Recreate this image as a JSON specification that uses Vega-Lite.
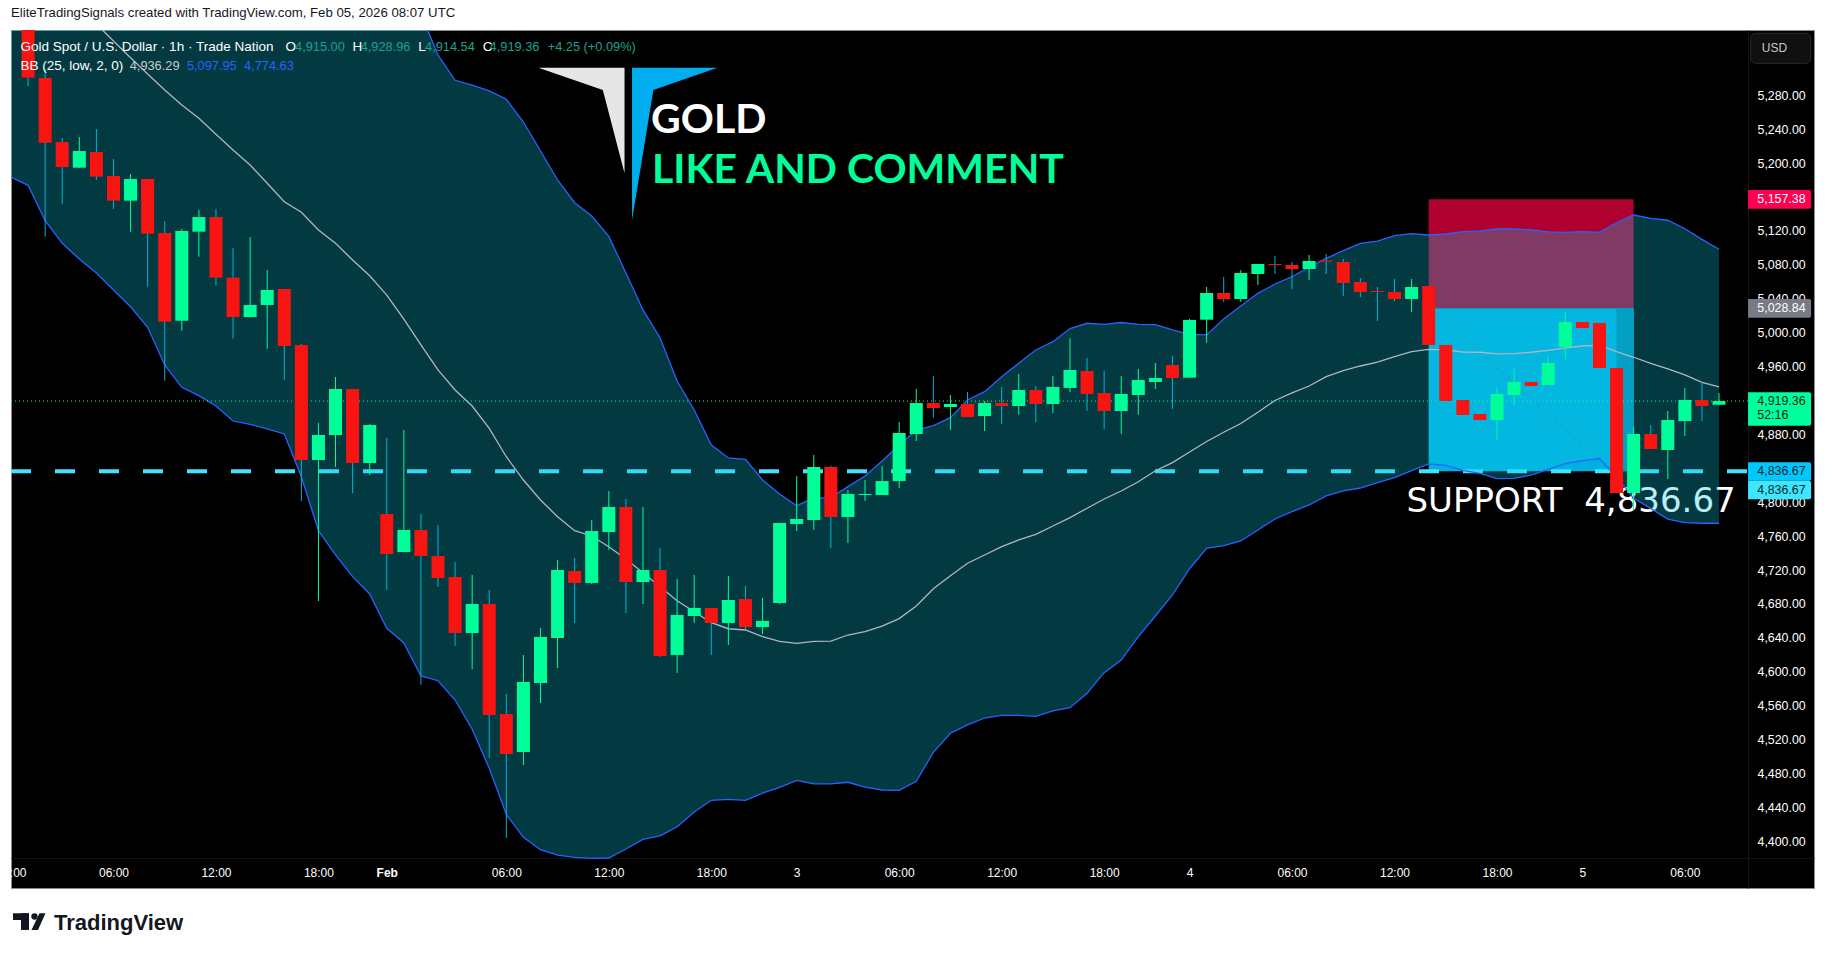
{
  "$schema": "https://vega.github.io/schema/vega-lite/v6.json",
  "autosize": {"type": "none"},
  "padding": {"left": 11, "top": 30, "right": 12, "bottom": 67},
  "width": 1803,
  "height": 858,
  "background": "#ffffff",
  "view": {"fill": "#000000", "stroke": "#8a8a8a"},
  "config": {"font": "Liberation Sans"},
  "title": {
    "text": "EliteTradingSignals created with TradingView.com, Feb 05, 2026 08:07 UTC",
    "anchor": "start",
    "frame": "group",
    "offset": 9,
    "font": "Liberation Sans",
    "fontSize": 13.2,
    "fontWeight": "normal",
    "color": "#131722"
  },
  "datasets": {
    "bars": [
      {"i":0,"open":5357,"high":5357,"low":5290.9,"close":5300.8},
      {"i":1,"open":5300.4,"high":5310.6,"low":5113.2,"close":5224.1},
      {"i":2,"open":5224.9,"high":5229.6,"low":5152.1,"close":5195.4},
      {"i":3,"open":5194.6,"high":5230.8,"low":5194,"close":5214.3},
      {"i":4,"open":5213.1,"high":5240.2,"low":5180.1,"close":5184},
      {"i":5,"open":5184.8,"high":5204.9,"low":5145.9,"close":5155.7},
      {"i":6,"open":5155.7,"high":5187.2,"low":5119.1,"close":5181.3},
      {"i":7,"open":5181.3,"high":5181.3,"low":5054.2,"close":5116.7},
      {"i":8,"open":5117.6,"high":5131.7,"low":4943.4,"close":5013},
      {"i":9,"open":5014.1,"high":5122.3,"low":5002.3,"close":5119.9},
      {"i":10,"open":5119.1,"high":5144.7,"low":5089.6,"close":5136.4},
      {"i":11,"open":5136.4,"high":5145.9,"low":5055.4,"close":5064.9},
      {"i":12,"open":5064.9,"high":5099.9,"low":4992.9,"close":5018.5},
      {"i":13,"open":5018.5,"high":5112.9,"low":5018,"close":5032.7},
      {"i":14,"open":5032.7,"high":5073.9,"low":4981.1,"close":5050.4},
      {"i":15,"open":5051.5,"high":5051.5,"low":4944.2,"close":4984.3},
      {"i":16,"open":4985.5,"high":4986.6,"low":4801.5,"close":4849.8},
      {"i":17,"open":4849.8,"high":4893.5,"low":4683.5,"close":4879.3},
      {"i":18,"open":4879.3,"high":4947.7,"low":4841.6,"close":4933.6},
      {"i":19,"open":4933.6,"high":4933.6,"low":4810.9,"close":4846.3},
      {"i":20,"open":4846.3,"high":4892.3,"low":4832.1,"close":4891.1},
      {"i":21,"open":4786.1,"high":4875.8,"low":4696.5,"close":4739},
      {"i":22,"open":4741.3,"high":4885.2,"low":4741,"close":4767.3},
      {"i":23,"open":4767.3,"high":4786.1,"low":4584.8,"close":4736.6},
      {"i":24,"open":4736.6,"high":4773.2,"low":4700,"close":4710.6},
      {"i":25,"open":4711.8,"high":4729.5,"low":4630.4,"close":4645.8},
      {"i":26,"open":4645.8,"high":4714.2,"low":4603.3,"close":4680},
      {"i":27,"open":4680,"high":4696.5,"low":4498.3,"close":4549},
      {"i":28,"open":4550.2,"high":4573.8,"low":4404,"close":4503},
      {"i":29,"open":4505.4,"high":4619.8,"low":4490.1,"close":4588},
      {"i":30,"open":4586.8,"high":4651.7,"low":4563.2,"close":4641.1},
      {"i":31,"open":4639.9,"high":4731.9,"low":4604.5,"close":4720.1},
      {"i":32,"open":4718.9,"high":4734.3,"low":4657.6,"close":4704.8},
      {"i":33,"open":4704.8,"high":4779.1,"low":4703.6,"close":4766.1},
      {"i":34,"open":4764.9,"high":4813.3,"low":4743.7,"close":4794.4},
      {"i":35,"open":4794.4,"high":4803.8,"low":4669.4,"close":4705.9},
      {"i":36,"open":4705.9,"high":4794.4,"low":4680,"close":4720.1},
      {"i":37,"open":4720.1,"high":4746,"low":4617.5,"close":4618.7},
      {"i":38,"open":4619.9,"high":4709.5,"low":4598.6,"close":4667},
      {"i":39,"open":4665.8,"high":4714.2,"low":4657.6,"close":4675.3},
      {"i":40,"open":4675.3,"high":4675.3,"low":4619.9,"close":4657.6},
      {"i":41,"open":4657.6,"high":4713,"low":4631.6,"close":4684.7},
      {"i":42,"open":4685.9,"high":4701.2,"low":4649.3,"close":4652.8},
      {"i":43,"open":4652.8,"high":4687.1,"low":4644.6,"close":4660},
      {"i":44,"open":4681.2,"high":4775.5,"low":4680,"close":4775.5},
      {"i":45,"open":4774.3,"high":4831,"low":4766.1,"close":4780.2},
      {"i":46,"open":4779,"high":4855.7,"low":4767.3,"close":4841.6},
      {"i":47,"open":4841.6,"high":4842.8,"low":4746,"close":4782.6},
      {"i":48,"open":4782.6,"high":4814.4,"low":4752,"close":4809.7},
      {"i":49,"open":4808.5,"high":4826.2,"low":4801.5,"close":4809.7},
      {"i":50,"open":4808.5,"high":4842.8,"low":4808.5,"close":4825},
      {"i":51,"open":4825,"high":4894.6,"low":4816.8,"close":4881.7},
      {"i":52,"open":4880.5,"high":4933.6,"low":4872.2,"close":4917},
      {"i":53,"open":4917,"high":4948.9,"low":4899.4,"close":4911.1},
      {"i":54,"open":4912.3,"high":4926.5,"low":4885.2,"close":4915.9},
      {"i":55,"open":4915.9,"high":4930,"low":4900.5,"close":4900.5},
      {"i":56,"open":4901.7,"high":4919.4,"low":4884,"close":4917},
      {"i":57,"open":4917,"high":4936,"low":4892.3,"close":4913.5},
      {"i":58,"open":4913.5,"high":4951.3,"low":4903,"close":4932.4},
      {"i":59,"open":4932.4,"high":4937.1,"low":4894.6,"close":4915.9},
      {"i":60,"open":4915.9,"high":4948.9,"low":4905.3,"close":4936},
      {"i":61,"open":4934.8,"high":4993.4,"low":4930,"close":4956},
      {"i":62,"open":4954.8,"high":4970.1,"low":4907.6,"close":4927.7},
      {"i":63,"open":4928.9,"high":4954.8,"low":4886.4,"close":4907.6},
      {"i":64,"open":4907.6,"high":4948.9,"low":4880.5,"close":4927.7},
      {"i":65,"open":4926.5,"high":4957.2,"low":4903,"close":4944.2},
      {"i":66,"open":4941.8,"high":4964.2,"low":4933.6,"close":4946.5},
      {"i":67,"open":4961.9,"high":4972.5,"low":4910,"close":4946.5},
      {"i":68,"open":4946.9,"high":5016.2,"low":4946.9,"close":5015},
      {"i":69,"open":5015.3,"high":5053.9,"low":4988,"close":5046.8},
      {"i":70,"open":5046.8,"high":5065.7,"low":5036.2,"close":5039.7},
      {"i":71,"open":5039.7,"high":5073.9,"low":5036.2,"close":5070.4},
      {"i":72,"open":5069.2,"high":5081,"low":5056.2,"close":5081},
      {"i":73,"open":5081,"high":5090.5,"low":5069.2,"close":5079.8},
      {"i":74,"open":5079.8,"high":5083.4,"low":5051.5,"close":5075.1},
      {"i":75,"open":5075.1,"high":5091.6,"low":5062.1,"close":5084.6},
      {"i":76,"open":5085,"high":5092.8,"low":5069.2,"close":5083.6},
      {"i":77,"open":5083.4,"high":5086.9,"low":5043.3,"close":5058.6},
      {"i":78,"open":5059.8,"high":5064.5,"low":5042.1,"close":5048},
      {"i":79,"open":5049.2,"high":5053.9,"low":5013.8,"close":5048},
      {"i":80,"open":5048,"high":5063.3,"low":5037.4,"close":5039.7},
      {"i":81,"open":5039.7,"high":5063.3,"low":5024.4,"close":5053.9},
      {"i":82,"open":5055.1,"high":5055.1,"low":4985.5,"close":4985.5},
      {"i":83,"open":4985.5,"high":4985.5,"low":4919.4,"close":4919.4},
      {"i":84,"open":4920.6,"high":4920.6,"low":4902.9,"close":4902.9},
      {"i":85,"open":4904.1,"high":4904.1,"low":4897,"close":4897},
      {"i":86,"open":4897,"high":4934.8,"low":4873.4,"close":4927.7},
      {"i":87,"open":4926.5,"high":4958.4,"low":4914.7,"close":4941.8},
      {"i":88,"open":4941.8,"high":4941.8,"low":4937.1,"close":4937.1},
      {"i":89,"open":4938.3,"high":4971.3,"low":4938.3,"close":4964.2},
      {"i":90,"open":4983.1,"high":5024.4,"low":4969,"close":5012.6},
      {"i":91,"open":5012.6,"high":5012.6,"low":5005.5,"close":5005.5},
      {"i":92,"open":5011.4,"high":5011.4,"low":4958.4,"close":4958.4},
      {"i":93,"open":4958.4,"high":4958.4,"low":4810.9,"close":4810.9},
      {"i":94,"open":4810.9,"high":4888.7,"low":4790.9,"close":4880.5},
      {"i":95,"open":4880.5,"high":4891.1,"low":4862.8,"close":4862.8},
      {"i":96,"open":4861.6,"high":4907.6,"low":4827.4,"close":4897},
      {"i":97,"open":4895.8,"high":4934.8,"low":4878.1,"close":4920.6},
      {"i":98,"open":4920.6,"high":4941.8,"low":4895.8,"close":4913.5},
      {"i":99,"open":4915,"high":4928.96,"low":4914.54,"close":4919.36}
    ],
    "bb": [
      {"i":-1,"upper":5710,"mid":5470,"lower":5183.6},
      {"i":0,"upper":5700,"mid":5450,"lower":5173.8},
      {"i":1,"upper":5690,"mid":5430,"lower":5132.1},
      {"i":2,"upper":5680,"mid":5410,"lower":5105.4},
      {"i":3,"upper":5670,"mid":5386.5,"lower":5086.9},
      {"i":4,"upper":5660,"mid":5364,"lower":5070.4},
      {"i":5,"upper":5650,"mid":5344,"lower":5050.3},
      {"i":6,"upper":5645,"mid":5324.3,"lower":5030.6},
      {"i":7,"upper":5640,"mid":5305.1,"lower":5006.3},
      {"i":8,"upper":5635,"mid":5286.2,"lower":4961.9},
      {"i":9,"upper":5630,"mid":5268.6,"lower":4935.6},
      {"i":10,"upper":5625,"mid":5252.9,"lower":4925.7},
      {"i":11,"upper":5620,"mid":5234,"lower":4913.5},
      {"i":12,"upper":5615,"mid":5215.5,"lower":4895.8},
      {"i":13,"upper":5610,"mid":5197.8,"lower":4891.9},
      {"i":14,"upper":5605,"mid":5176.2,"lower":4886.4},
      {"i":15,"upper":5600,"mid":5154.5,"lower":4880.5},
      {"i":16,"upper":5580,"mid":5142,"lower":4830.1},
      {"i":17,"upper":5560,"mid":5121.1,"lower":4766.4},
      {"i":18,"upper":5540,"mid":5105.4,"lower":4737.8},
      {"i":19,"upper":5510,"mid":5085.7,"lower":4712.2},
      {"i":20,"upper":5480,"mid":5067.2,"lower":4691.8},
      {"i":21,"upper":5450,"mid":5044.4,"lower":4651.3},
      {"i":22,"upper":5416,"mid":5016.1,"lower":4634},
      {"i":23,"upper":5375.9,"mid":4985.5,"lower":4595.1},
      {"i":24,"upper":5327.5,"mid":4956,"lower":4589.5},
      {"i":25,"upper":5297.7,"mid":4932.4,"lower":4566.7},
      {"i":26,"upper":5292.1,"mid":4913.5,"lower":4532.2},
      {"i":27,"upper":5285.1,"mid":4887.2,"lower":4486.2},
      {"i":28,"upper":5275.3,"mid":4853.7,"lower":4431.7},
      {"i":29,"upper":5248.5,"mid":4826.2,"lower":4404.8},
      {"i":30,"upper":5214.3,"mid":4802.7,"lower":4390.2},
      {"i":31,"upper":5180.1,"mid":4783,"lower":4383.9},
      {"i":32,"upper":5153.3,"mid":4766.4,"lower":4381.1},
      {"i":33,"upper":5137.6,"mid":4760.2,"lower":4380},
      {"i":34,"upper":5113.6,"mid":4747.6,"lower":4380.4},
      {"i":35,"upper":5070.4,"mid":4733,"lower":4391},
      {"i":36,"upper":5026.8,"mid":4716.9,"lower":4402.4},
      {"i":37,"upper":4994.1,"mid":4700.4,"lower":4406.4},
      {"i":38,"upper":4943,"mid":4683.9,"lower":4417.3},
      {"i":39,"upper":4908.8,"mid":4670.9,"lower":4434.6},
      {"i":40,"upper":4867.5,"mid":4657.9,"lower":4448.4},
      {"i":41,"upper":4852.2,"mid":4650.8,"lower":4449.6},
      {"i":42,"upper":4850.6,"mid":4649.3,"lower":4448.4},
      {"i":43,"upper":4826.2,"mid":4641.4,"lower":4457},
      {"i":44,"upper":4809.7,"mid":4636,"lower":4463.8},
      {"i":45,"upper":4795.9,"mid":4633.6,"lower":4472},
      {"i":46,"upper":4805,"mid":4636,"lower":4467.7},
      {"i":47,"upper":4805.4,"mid":4636.3,"lower":4467.7},
      {"i":48,"upper":4818.4,"mid":4643.4,"lower":4469.7},
      {"i":49,"upper":4831,"mid":4647.3,"lower":4464.1},
      {"i":50,"upper":4848.6,"mid":4654,"lower":4460.6},
      {"i":51,"upper":4867.5,"mid":4662.7,"lower":4460.2},
      {"i":52,"upper":4885.2,"mid":4677.6,"lower":4470.9},
      {"i":53,"upper":4890.3,"mid":4698,"lower":4505},
      {"i":54,"upper":4899.7,"mid":4713.4,"lower":4527.5},
      {"i":55,"upper":4920.6,"mid":4728,"lower":4537.3},
      {"i":56,"upper":4930.4,"mid":4737.8,"lower":4545.5},
      {"i":57,"upper":4948.1,"mid":4747.6,"lower":4548.5},
      {"i":58,"upper":4963.9,"mid":4755.5,"lower":4548.7},
      {"i":59,"upper":4979.6,"mid":4762.2,"lower":4547.5},
      {"i":60,"upper":4989.4,"mid":4772,"lower":4553.8},
      {"i":61,"upper":5004.9,"mid":4781.8,"lower":4557.7},
      {"i":62,"upper":5011.1,"mid":4792.9,"lower":4574.6},
      {"i":63,"upper":5009.9,"mid":4803.8,"lower":4599},
      {"i":64,"upper":5012,"mid":4813.3,"lower":4613.9},
      {"i":65,"upper":5009.9,"mid":4824.2,"lower":4641.4},
      {"i":66,"upper":5009.4,"mid":4837.2,"lower":4665.8},
      {"i":67,"upper":5003.2,"mid":4846.7,"lower":4690.6},
      {"i":68,"upper":4998.1,"mid":4859.3,"lower":4721.6},
      {"i":69,"upper":4997.4,"mid":4871.6,"lower":4745.7},
      {"i":70,"upper":5016.1,"mid":4882.5,"lower":4748.8},
      {"i":71,"upper":5031.5,"mid":4892.9,"lower":4754.3},
      {"i":72,"upper":5046.4,"mid":4906.1,"lower":4767.3},
      {"i":73,"upper":5057.4,"mid":4920,"lower":4780.2},
      {"i":74,"upper":5066,"mid":4928.9,"lower":4788.9},
      {"i":75,"upper":5077.5,"mid":4937.1,"lower":4796.8},
      {"i":76,"upper":5087.7,"mid":4948.1,"lower":4807.4},
      {"i":77,"upper":5096.7,"mid":4955.2,"lower":4813.3},
      {"i":78,"upper":5105.4,"mid":4960.7,"lower":4816.8},
      {"i":79,"upper":5108.1,"mid":4965.4,"lower":4823.1},
      {"i":80,"upper":5114.4,"mid":4971.7,"lower":4829},
      {"i":81,"upper":5116.8,"mid":4977.6,"lower":4837.2},
      {"i":82,"upper":5115.2,"mid":4980.4,"lower":4845.1},
      {"i":83,"upper":5116.4,"mid":4979.6,"lower":4843.6},
      {"i":84,"upper":5119.1,"mid":4977.2,"lower":4837.7},
      {"i":85,"upper":5120,"mid":4976.9,"lower":4834.1},
      {"i":86,"upper":5122.3,"mid":4974.9,"lower":4827.8},
      {"i":87,"upper":5122.3,"mid":4975.2,"lower":4828.2},
      {"i":88,"upper":5121.1,"mid":4976.9,"lower":4832.1},
      {"i":89,"upper":5118.8,"mid":4979.2,"lower":4838.8},
      {"i":90,"upper":5118.4,"mid":4982,"lower":4845.5},
      {"i":91,"upper":5119.1,"mid":4984.3,"lower":4849},
      {"i":92,"upper":5118.4,"mid":4985.1,"lower":4851.4},
      {"i":93,"upper":5129.7,"mid":4977.6,"lower":4830.1},
      {"i":94,"upper":5138.8,"mid":4971,"lower":4804.6},
      {"i":95,"upper":5134.9,"mid":4963.9,"lower":4792.8},
      {"i":96,"upper":5132.6,"mid":4957.2,"lower":4780.2},
      {"i":97,"upper":5122.6,"mid":4950.1,"lower":4775.9},
      {"i":98,"upper":5110.1,"mid":4941.5,"lower":4775.2},
      {"i":99,"upper":5098.4,"mid":4936,"lower":4775.2}
    ]
  },
  "encoding": {
    "x": {
      "field": "i",
      "type": "quantitative",
      "title": null,
      "scale": {"domain": [-1, 104.56], "nice": false, "zero": false, "padding": 0},
      "axis": {
        "orient": "bottom",
        "offset": -30,
        "title": null,
        "grid": false,
        "ticks": false,
        "domainColor": "#141414",
        "labelColor": "#ffffff",
        "labelFont": "Liberation Sans",
        "labelFontSize": 12,
        "labelPadding": 9,
        "labelFlush": false,
        "labelBound": false,
        "labelOverlap": false,
        "labelFontWeight": {"condition": {"test": "datum.value == 21", "value": "bold"}, "value": "normal"},
        "values": [-1, 5, 11, 17, 21, 28, 34, 40, 45, 51, 57, 63, 68, 74, 80, 86, 91, 97],
        "labelExpr": "['00:00','06:00','12:00','18:00','Feb','06:00','12:00','18:00','3','06:00','12:00','18:00','4','06:00','12:00','18:00','5','06:00'][indexof([-1,5,11,17,21,28,34,40,45,51,57,63,68,74,80,86,91,97], datum.value)]"
      }
    },
    "y": {
      "field": "price",
      "type": "quantitative",
      "title": null,
      "scale": {"domain": [4345, 5357], "nice": false, "zero": false, "padding": 0},
      "axis": {
        "orient": "right",
        "offset": -66,
        "title": null,
        "grid": false,
        "ticks": false,
        "domainColor": "#141414",
        "labelColor": "#ffffff",
        "labelFont": "Liberation Sans",
        "labelFontSize": 12.4,
        "labelPadding": 9,
        "labelFlush": false,
        "labelBound": false,
        "labelOverlap": false,
        "format": ",.2f",
        "values": [4400, 4440, 4480, 4520, 4560, 4600, 4640, 4680, 4720, 4760, 4800, 4840, 4880, 4920, 4960, 5000, 5040, 5080, 5120, 5160, 5200, 5240, 5280]
      }
    }
  },
  "layer": [
    {
      "data": {"values": [{"i": 82, "i2": 94, "price": 5157.38, "price2": 5028.84}]},
      "mark": {"type": "rect", "color": "#b0002f"},
      "encoding": {"x2": {"field": "i2"}, "y2": {"field": "price2"}}
    },
    {
      "data": {"values": [{"i": 82, "i2": 94, "price": 5028.84, "price2": 4836.67}]},
      "mark": {"type": "rect", "color": "#00b0e0"},
      "encoding": {"x2": {"field": "i2"}, "y2": {"field": "price2"}}
    },
    {
      "data": {"values": [{"i": 93, "i2": 94, "price": 5028.84, "price2": 4836.67}]},
      "mark": {"type": "rect", "color": "#0090b6"},
      "encoding": {"x2": {"field": "i2"}, "y2": {"field": "price2"}}
    },
    {
      "data": {"values": [{"i": 82.4, "price": 5022.9}, {"i": 92.68, "price": 4838}]},
      "mark": {"type": "line", "color": "#4f7f93", "strokeWidth": 1, "strokeDash": [4, 4]}
    },
    {
      "data": {"values": [{"i": -1, "i2": 100.7, "price": 4836.67}]},
      "mark": {"type": "rule", "color": "#40e3ff", "strokeWidth": 4, "strokeDash": [20, 24]},
      "encoding": {"x2": {"field": "i2"}}
    },
    {
      "data": {"values": [{"i": 80.7, "price": 4788.9, "label": "SUPPORT\u00a0\u00a04,836.67"}]},
      "mark": {"type": "text", "align": "left", "baseline": "alphabetic", "font": "DejaVu Sans", "fontSize": 34, "color": "#ffffff"},
      "encoding": {"text": {"field": "label"}}
    },
    {
      "data": {"name": "bb"},
      "mark": {"type": "area", "orient": "vertical", "color": "#0ac8e4", "opacity": 0.29, "clip": true},
      "encoding": {"y": {"field": "upper", "type": "quantitative"}, "y2": {"field": "lower"}}
    },
    {
      "data": {"name": "bb"},
      "mark": {"type": "line", "color": "#2962ff", "strokeWidth": 1.3, "clip": true},
      "encoding": {"y": {"field": "upper", "type": "quantitative"}}
    },
    {
      "data": {"name": "bb"},
      "mark": {"type": "line", "color": "#2962ff", "strokeWidth": 1.3, "clip": true},
      "encoding": {"y": {"field": "lower", "type": "quantitative"}}
    },
    {
      "data": {"name": "bb"},
      "mark": {"type": "line", "color": "#b2b5be", "strokeWidth": 1.3, "clip": true},
      "encoding": {"y": {"field": "mid", "type": "quantitative"}}
    },
    {
      "data": {"values": [{"i": -1, "i2": 100.7, "price": 4919.36}]},
      "mark": {"type": "rule", "color": "#00ff9d", "strokeWidth": 1, "strokeDash": [1, 3]},
      "encoding": {"x2": {"field": "i2"}}
    },
    {
      "data": {"name": "bars"},
      "mark": {"type": "rule", "strokeWidth": 1},
      "encoding": {
        "y": {"field": "low", "type": "quantitative"},
        "y2": {"field": "high"},
        "color": {"condition": {"test": "datum.close >= datum.open", "value": "#00ff99"}, "value": "#00b4d8"}
      }
    },
    {
      "data": {"name": "bars"},
      "mark": {"type": "bar", "size": 13},
      "encoding": {
        "y": {"field": "open", "type": "quantitative"},
        "y2": {"field": "close"},
        "color": {"condition": {"test": "datum.close >= datum.open", "value": "#00ff99"}, "value": "#f81410"}
      }
    },
    {
      "data": {"values": [
        {"i": 29.88, "price": 5312.6, "price2": 5312.6},
        {"i": 33.65, "price": 5286.2, "price2": 5312.6},
        {"i": 34.92, "price": 5188, "price2": 5312.6}
      ]},
      "mark": {"type": "area", "orient": "vertical", "color": "#e6e6e6"},
      "encoding": {"y2": {"field": "price2"}}
    },
    {
      "data": {"values": [
        {"i": 35.36, "price": 5132.9, "price2": 5312.6},
        {"i": 36.61, "price": 5286.2, "price2": 5312.6},
        {"i": 40.36, "price": 5312.6, "price2": 5312.6}
      ]},
      "mark": {"type": "area", "orient": "vertical", "color": "#00aeef"},
      "encoding": {"y2": {"field": "price2"}}
    },
    {
      "data": {"values": [{"i": 36.47, "price": 5235.9, "label": "GOLD"}]},
      "mark": {"type": "text", "align": "left", "baseline": "alphabetic", "font": "Lato", "fontSize": 41, "fontWeight": "bold", "color": "#ffffff"},
      "encoding": {"text": {"field": "label"}}
    },
    {
      "data": {"values": [{"i": 36.53, "price": 5176.2, "label": "LIKE AND COMMENT"}]},
      "mark": {"type": "text", "align": "left", "baseline": "alphabetic", "font": "Lato", "fontSize": 41, "fontWeight": "bold", "color": "#00ff99"},
      "encoding": {"text": {"field": "label"}}
    },
    {
      "data": {"values": [
        {"i": -0.44, "price": 5337.3, "label": "Gold Spot / U.S. Dollar · 1h · Trade Nation"},
        {"i": 15.07, "price": 5337.3, "label": "O"},
        {"i": 19.0, "price": 5337.3, "label": "H"},
        {"i": 22.85, "price": 5337.3, "label": "L"},
        {"i": 26.62, "price": 5337.3, "label": "C"},
        {"i": -0.44, "price": 5314.9, "label": "BB (25, low, 2, 0)"}
      ]},
      "mark": {"type": "text", "align": "left", "baseline": "middle", "font": "Liberation Sans", "fontSize": 13.5, "color": "#ffffff"},
      "encoding": {"text": {"field": "label"}}
    },
    {
      "data": {"values": [
        {"i": 15.63, "price": 5337.3, "label": "4,915.00"},
        {"i": 19.47, "price": 5337.3, "label": "4,928.96"},
        {"i": 23.24, "price": 5337.3, "label": "4,914.54"},
        {"i": 27.02, "price": 5337.3, "label": "4,919.36"},
        {"i": 30.42, "price": 5337.3, "label": "+4.25 (+0.09%)"}
      ]},
      "mark": {"type": "text", "align": "left", "baseline": "middle", "font": "Liberation Sans", "fontSize": 12.8, "color": "#1fa08f"},
      "encoding": {"text": {"field": "label"}}
    },
    {
      "data": {"values": [{"i": 5.95, "price": 5314.9, "label": "4,936.29"}]},
      "mark": {"type": "text", "align": "left", "baseline": "middle", "font": "Liberation Sans", "fontSize": 12.8, "color": "#c8c8c8"},
      "encoding": {"text": {"field": "label"}}
    },
    {
      "data": {"values": [
        {"i": 9.3, "price": 5314.9, "label": "5,097.95"},
        {"i": 12.64, "price": 5314.9, "label": "4,774.63"}
      ]},
      "mark": {"type": "text", "align": "left", "baseline": "middle", "font": "Liberation Sans", "fontSize": 12.8, "color": "#2962ff"},
      "encoding": {"text": {"field": "label"}}
    },
    {
      "data": {"values": [{"i": 100.85, "i2": 104.37, "price": 5353.1, "price2": 5317.7}]},
      "mark": {"type": "rect", "color": "#101010", "stroke": "#2a2a2a", "cornerRadius": 5},
      "encoding": {"x2": {"field": "i2"}, "y2": {"field": "price2"}}
    },
    {
      "data": {"values": [{"i": 101.5, "price": 5335.4, "label": "USD"}]},
      "mark": {"type": "text", "align": "left", "baseline": "middle", "font": "Liberation Sans", "fontSize": 12, "color": "#c8c8c8"},
      "encoding": {"text": {"field": "label"}}
    },
    {
      "data": {"values": [{"i": 100.7, "i2": 104.39, "price": 5168.3, "price2": 5146.2}]},
      "mark": {"type": "rect", "color": "#ff0050", "cornerRadiusTopRight": 2, "cornerRadiusBottomRight": 2},
      "encoding": {"x2": {"field": "i2"}, "y2": {"field": "price2"}}
    },
    {
      "data": {"values": [{"i": 100.7, "i2": 104.39, "price": 5039.7, "price2": 5017.7}]},
      "mark": {"type": "rect", "color": "#787b86", "cornerRadiusTopRight": 2, "cornerRadiusBottomRight": 2},
      "encoding": {"x2": {"field": "i2"}, "y2": {"field": "price2"}}
    },
    {
      "data": {"values": [{"i": 100.7, "i2": 104.39, "price": 4929.7, "price2": 4890.3}]},
      "mark": {"type": "rect", "color": "#00ff9d", "cornerRadiusTopRight": 2, "cornerRadiusBottomRight": 2},
      "encoding": {"x2": {"field": "i2"}, "y2": {"field": "price2"}}
    },
    {
      "data": {"values": [{"i": 100.7, "i2": 104.39, "price": 4847.1, "price2": 4825.4}]},
      "mark": {"type": "rect", "color": "#00c8ff", "cornerRadiusTopRight": 2, "cornerRadiusBottomRight": 2},
      "encoding": {"x2": {"field": "i2"}, "y2": {"field": "price2"}}
    },
    {
      "data": {"values": [{"i": 100.7, "i2": 104.39, "price": 4825.4, "price2": 4803.5}]},
      "mark": {"type": "rect", "color": "#3fe6ff", "cornerRadiusTopRight": 2, "cornerRadiusBottomRight": 2},
      "encoding": {"x2": {"field": "i2"}, "y2": {"field": "price2"}}
    },
    {
      "data": {"values": [
        {"i": 101.24, "price": 5157.3, "label": "5,157.38"},
        {"i": 101.24, "price": 5029.1, "label": "5,028.84"}
      ]},
      "mark": {"type": "text", "align": "left", "baseline": "middle", "font": "Liberation Sans", "fontSize": 12.4, "color": "#ffffff"},
      "encoding": {"text": {"field": "label"}}
    },
    {
      "data": {"values": [
        {"i": 101.24, "price": 4919.8, "label": "4,919.36"},
        {"i": 101.24, "price": 4902.9, "label": "52:16"},
        {"i": 101.24, "price": 4837.2, "label": "4,836.67"},
        {"i": 101.24, "price": 4814.8, "label": "4,836.67"}
      ]},
      "mark": {"type": "text", "align": "left", "baseline": "middle", "font": "Liberation Sans", "fontSize": 12.4, "color": "#0b2a22"},
      "encoding": {"text": {"field": "label"}}
    },
    {
      "data": {"values": [{"i": -0.884, "i2": 0.053, "price": 4315.2, "price2": 4307.3}, {"i": -0.416, "i2": 0.053, "price": 4315.2, "price2": 4295.5}]},
      "mark": {"type": "rect", "color": "#131722"},
      "encoding": {"x2": {"field": "i2"}, "y2": {"field": "price2"}}
    },
    {
      "data": {"values": [{"i": 0.375, "price": 4311.4}]},
      "mark": {"type": "point", "filled": true, "opacity": 1, "size": 40, "color": "#131722"}
    },
    {
      "data": {"values": [{"price": 4315.2, "i": 0.667, "i2": 1.019}, {"price": 4295.5, "i": 0.2, "i2": 0.58}]},
      "mark": {"type": "area", "orient": "horizontal", "color": "#131722"},
      "encoding": {"x2": {"field": "i2"}}
    },
    {
      "data": {"values": [{"i": 1.516, "price": 4303.7, "label": "TradingView"}]},
      "mark": {"type": "text", "align": "left", "baseline": "middle", "font": "Liberation Sans", "fontSize": 22, "fontWeight": "bold", "color": "#131722"},
      "encoding": {"text": {"field": "label"}}
    }
  ]
}
